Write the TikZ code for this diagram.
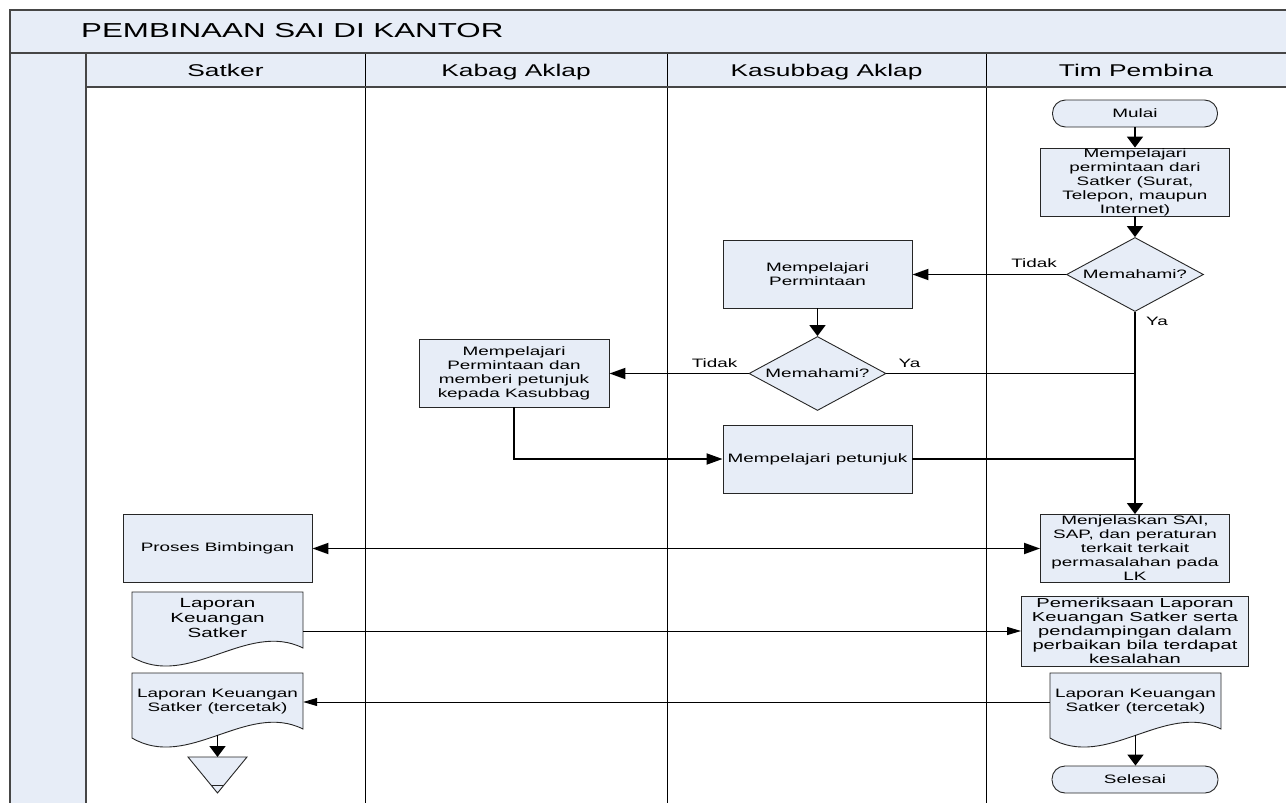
\documentclass[tikz,border=0pt]{standalone}
\usepackage{fontspec}
\setmainfont{Liberation Sans}[FakeStretch=1.55]
\usetikzlibrary{arrows.meta,shapes.geometric,calc}
\definecolor{fillc}{RGB}{231,237,247}
\definecolor{framec}{RGB}{70,70,70}
\newcommand\boxfont{\fontsize{12.2}{14}\selectfont}
\newcommand\bigboxfont{\fontsize{13.3}{15}\selectfont}
\newcommand\docshape[3]{%
  \path[docsh] (#1,#2) -- (#1+#3,#2) -- (#1+#3,#2+56)
    .. controls (#1+0.67*#3,#2+28) and (#1+0.33*#3,#2+98) .. (#1,#2+65) -- cycle;}
\tikzset{
  box/.style={draw=black!85, fill=fillc, line width=0.9pt, minimum width=189pt,
    minimum height=68pt, inner sep=0pt, align=center, font=\boxfont},
  dec/.style={diamond, draw=black!85, fill=fillc, line width=0.9pt, aspect=1.85,
    minimum width=137pt, minimum height=74pt, inner sep=0pt, font=\boxfont},
  term/.style={draw=black!85, fill=fillc, line width=0.9pt, rounded corners=13pt,
    minimum width=165pt, minimum height=27pt, inner sep=0pt, font=\boxfont},
  docnode/.style={minimum height=56pt, inner sep=0pt, align=center},
  docsh/.style={draw=black!85, fill=fillc, line width=0.9pt},
  hflow/.style={line width=1.8pt, -{Triangle[length=16pt,width=11pt]}},
  vflow/.style={line width=1.8pt, -{Triangle[length=11pt,width=16pt]}},
  thinflow/.style={line width=0.9pt, -{Triangle[length=14pt,width=8pt]}},
  joinline/.style={line width=1.8pt},
  lbl/.style={font=\boxfont, inner sep=0pt},
  hdr/.style={font=\fontsize{17}{19}\selectfont, inner sep=0pt, anchor=base},
  framefill/.style={fill=fillc},
  frameline/.style={draw=framec, line width=1.3pt},
  laneline/.style={draw=black, line width=0.9pt},
}
\begin{document}
\begin{tikzpicture}[x=1pt,y=-1pt]
\useasboundingbox (0,0) rectangle (1286,803);
\begin{scope}
\clip (0,0) rectangle (1286,803);
% frame
\path[framefill] (10,10) rectangle (1300,53);
\path[framefill] (10,53) rectangle (86,815);
\path[framefill] (86,53) rectangle (1300,87);
\draw[laneline] (365,53) -- (365,815);
\draw[laneline] (667,53) -- (667,815);
\draw[laneline] (986,53) -- (986,815);
\draw[frameline] (86,87) -- (1300,87);
\draw[frameline] (10,53) -- (1300,53);
\draw[frameline] (86,53) -- (86,815);
\draw[frameline] (1300,10) -- (10,10) -- (10,815);
\end{scope}
% title and lane headers
\node[anchor=west, inner sep=0pt, font=\fontsize{20.2}{22}\selectfont] (title) at (81,31) {PEMBINAAN SAI DI KANTOR};
\node[hdr] (h1) at (225.5,76) {Satker};
\node[hdr] (h2) at (516,76) {Kabag Aklap};
\node[hdr] (h3) at (826.5,76) {Kasubbag Aklap};
\node[hdr] (h4) at (1136,76) {Tim Pembina};
% document shapes
\docshape{132}{592}{171}
\docshape{132}{673}{171}
\docshape{1050}{673}{171}
% flow nodes
\node[term] (mulai) at (1135,113.5) {Mulai};
\node[box] (m1) at (1135,182) {Mempelajari\\permintaan dari\\Satker (Surat,\\Telepon, maupun\\Internet)};
\node[dec] (d1) at (1135,274.5) {Memahami?};
\node[box] (k1) at (817.5,274) {Mempelajari\\Permintaan};
\node[dec] (d2) at (817.5,373.5) {Memahami?};
\node[box, minimum width=190pt] (kb) at (514,373) {Mempelajari\\Permintaan dan\\memberi petunjuk\\kepada Kasubbag};
\node[box] (pt) at (817.5,459) {Mempelajari petunjuk};
\node[box] (mj) at (1135,548.5) {Menjelaskan SAI,\\SAP, dan peraturan\\terkait terkait\\permasalahan pada\\LK};
\node[box] (pb) at (217.5,548.5) {Proses Bimbingan};
\node[box, minimum width=227pt, minimum height=70pt, font=\fontsize{13}{14}\selectfont] (pem) at (1135,631) {Pemeriksaan Laporan\\Keuangan Satker serta\\pendampingan dalam\\perbaikan bila terdapat\\kesalahan};
\node[docnode, minimum width=171pt, font=\bigboxfont] (docA) at (217.5,618) {Laporan\\Keuangan\\Satker};
\node[docnode, minimum width=171pt, font=\boxfont] (docB) at (217.5,702) {Laporan Keuangan\\Satker (tercetak)};
\node[docnode, minimum width=171pt, font=\boxfont] (docC) at (1135.5,702) {Laporan Keuangan\\Satker (tercetak)};
\node[term, minimum width=166pt] (sel) at (1135,779.5) {Selesai};
% off-line storage triangle
\draw[docsh] (188,757) -- (247,757) -- (217.5,793) -- cycle;
\draw[line width=0.9pt, draw=black!85] (211,785) -- (224,785);
\coordinate (tri) at (217.5,757);
\coordinate (docBb) at ($(docB.south)+(0,5)$);
\coordinate (docCb) at ($(docC.south)+(0,5)$);
% connectors
\draw[vflow] (mulai.south) -- (mulai.south |- m1.north);
\draw[vflow] (m1.south) -- (m1.south |- d1.north);
\draw[hflow] (d1.west) -- (d1.west -| k1.east);
\draw[vflow] (k1.south) -- (k1.south |- d2.north);
\draw[hflow] (d2.west) -- (d2.west -| kb.east);
\draw[hflow] (kb.south) |- (pt.west);
\draw[joinline] (d2.east) -- (d2.east -| d1.south);
\draw[joinline] (pt.east) -- (pt.east -| d1.south);
\draw[vflow] (d1.south) -- (d1.south |- mj.north);
\draw[line width=1.8pt, {Triangle[length=16pt,width=11pt]}-{Triangle[length=16pt,width=11pt]}] (pb.east) -- (mj.west);
\draw[thinflow] (pem.west -| docA.east) -- (pem.west);
\draw[thinflow] (docC.west) -- (docB.east);
\draw[vflow] (docCb) -- (docCb |- sel.north);
\draw[vflow] (docBb) -- (tri);
% labels
\node[lbl, anchor=base east] (t1) at ($(d1.west)+(-9,-7.5)$) {Tidak};
\node[lbl, anchor=base west] (y1) at ($(d1.south)+(11,14)$) {Ya};
\node[lbl, anchor=base east] (t2) at ($(d2.west)+(-11,-6.5)$) {Tidak};
\node[lbl, anchor=base west] (y2) at ($(d2.east)+(12,-6.5)$) {Ya};
\end{tikzpicture}
\end{document}
